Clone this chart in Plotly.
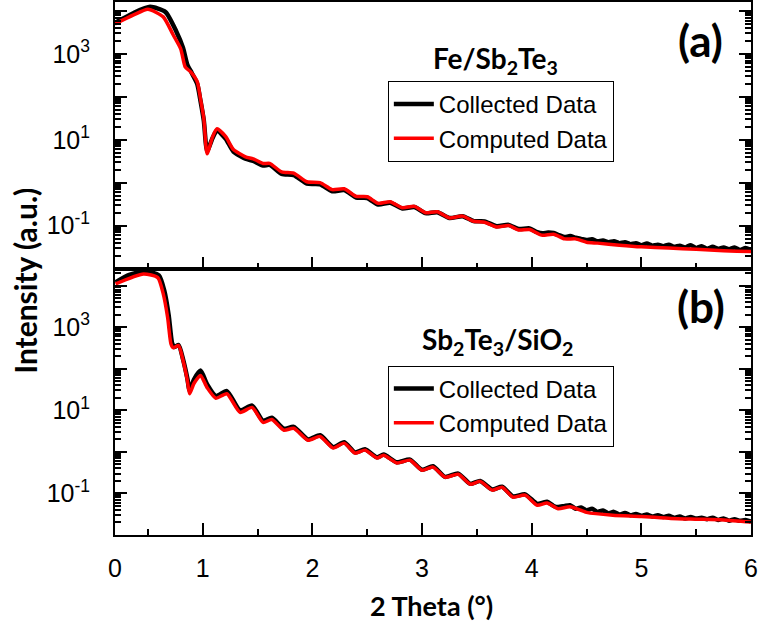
import plotly.graph_objects as go

# ---------------- data ----------------
# Panel (a): Fe/Sb2Te3
a_calc_x = [0.20, 0.37, 0.50, 0.64, 0.73, 0.80, 0.84, 0.89, 0.95, 0.98, 1.01, 1.04, 1.09, 1.13,
            1.21, 1.28, 1.39, 1.46, 1.55, 1.61, 1.72, 1.83, 1.95, 2.07, 2.18, 2.29, 2.40, 2.50,
            2.60, 2.71, 2.82, 2.93, 3.03, 3.14, 3.25, 3.37, 3.47, 3.57, 3.68, 3.79, 3.88, 3.98,
            4.09, 4.20, 4.30, 4.40, 4.50, 4.60, 4.80, 5.00, 5.25, 5.50, 5.75, 6.00]
a_calc_y = [5000, 8100, 11000, 7300, 2800, 1300, 500, 380, 225, 89, 31, 4.7, 11.7, 18,
            11.8, 5.9, 4.0, 3.6, 2.8, 2.82, 1.78, 1.66, 1.05, 1.0, 0.69, 0.72, 0.48, 0.47,
            0.33, 0.36, 0.26, 0.28, 0.20, 0.21, 0.151, 0.166, 0.126, 0.120, 0.093, 0.100, 0.079, 0.081,
            0.060, 0.063, 0.049, 0.049, 0.041, 0.039, 0.035, 0.032, 0.030, 0.028, 0.026, 0.025]

a_meas_x = [0.20, 0.37, 0.52, 0.66, 0.76, 0.82, 0.86, 0.90, 0.95, 0.98, 1.01, 1.04, 1.09, 1.13,
            1.21, 1.28, 1.39, 1.46, 1.55, 1.61, 1.72, 1.83, 1.95, 2.07, 2.18, 2.29, 2.40, 2.50,
            2.60, 2.71, 2.82, 2.93, 3.03, 3.14, 3.25, 3.37, 3.47, 3.57, 3.68, 3.79, 3.88, 3.98,
            4.05, 4.10, 4.15, 4.20, 4.25, 4.30, 4.35, 4.40, 4.45, 4.50, 4.55, 4.60, 4.65, 4.70,
            4.75, 4.80, 4.85, 4.90, 4.95, 5.00, 5.05, 5.10, 5.15, 5.20, 5.25, 5.30, 5.35, 5.40,
            5.45, 5.50, 5.55, 5.60, 5.65, 5.70, 5.75, 5.80, 5.85, 5.90, 5.95, 6.00]
a_meas_y = [5300, 9000, 12500, 9500, 3300, 1400, 560, 360, 200, 80, 28, 5.5, 11, 16.5,
            10.5, 5.3, 3.6, 3.2, 2.5, 2.6, 1.6, 1.5, 0.95, 0.92, 0.63, 0.67, 0.45, 0.44,
            0.31, 0.34, 0.25, 0.27, 0.195, 0.205, 0.15, 0.165, 0.127, 0.125, 0.097, 0.104, 0.083, 0.086,
            0.070, 0.066, 0.069, 0.067, 0.060, 0.054, 0.057, 0.052, 0.049, 0.046, 0.048, 0.043, 0.045, 0.041,
            0.043, 0.039, 0.041, 0.037, 0.039, 0.035, 0.038, 0.034, 0.036, 0.033, 0.036, 0.032, 0.034, 0.031,
            0.035, 0.030, 0.033, 0.029, 0.032, 0.029, 0.031, 0.028, 0.031, 0.027, 0.030, 0.027]

# Panel (b): Sb2Te3/SiO2
b_calc_x = [0.205, 0.46, 0.59, 0.64, 0.68, 0.71, 0.73, 0.78, 0.82, 0.86, 0.88, 0.92, 0.98, 1.04,
            1.12, 1.22, 1.34, 1.45, 1.55, 1.63, 1.74, 1.83, 1.96, 2.07, 2.19, 2.29, 2.39, 2.48,
            2.59, 2.65, 2.77, 2.89, 3.00, 3.10, 3.21, 3.33, 3.44, 3.53, 3.64, 3.73, 3.83, 3.94,
            4.05, 4.14, 4.24, 4.35, 4.50, 4.74, 5.00, 5.27, 5.51, 5.75, 6.00]
b_calc_y = [11000, 19000, 15500, 6300, 1700, 400, 320, 360, 160, 52, 25, 44, 69, 35,
            19.5, 25, 8.9, 11.7, 5.1, 6.0, 3.3, 3.7, 1.9, 2.35, 1.23, 1.62, 0.93, 1.1,
            0.71, 0.83, 0.54, 0.63, 0.36, 0.43, 0.245, 0.29, 0.166, 0.195, 0.12, 0.141, 0.081, 0.091,
            0.052, 0.059, 0.043, 0.048, 0.035, 0.030, 0.028, 0.025, 0.024, 0.023, 0.0205]

b_meas_x = [0.205, 0.33, 0.47, 0.60, 0.65, 0.69, 0.72, 0.74, 0.78, 0.82, 0.86, 0.88, 0.92, 0.98,
            1.04, 1.12, 1.22, 1.34, 1.45, 1.55, 1.63, 1.74, 1.83, 1.96, 2.07, 2.19, 2.29, 2.39,
            2.48, 2.59, 2.65, 2.77, 2.89, 3.00, 3.10, 3.21, 3.33, 3.44, 3.53, 3.64, 3.73, 3.83,
            3.94, 4.05, 4.10, 4.14, 4.20, 4.24, 4.30, 4.35, 4.40, 4.45, 4.50, 4.55, 4.60, 4.65,
            4.70, 4.75, 4.80, 4.85, 4.90, 4.95, 5.00, 5.05, 5.10, 5.15, 5.20, 5.25, 5.30, 5.35,
            5.40, 5.45, 5.50, 5.55, 5.60, 5.65, 5.70, 5.75, 5.80, 5.85, 5.90, 5.95, 6.00]
b_meas_y = [12000, 18000, 22000, 17500, 7500, 1900, 420, 330, 370, 170, 58, 30, 55, 90,
            42, 22, 29, 10, 13, 5.6, 6.6, 3.6, 4.0, 2.0, 2.5, 1.3, 1.7, 0.97,
            1.15, 0.74, 0.86, 0.56, 0.65, 0.37, 0.45, 0.25, 0.30, 0.17, 0.20, 0.125, 0.145, 0.085,
            0.095, 0.056, 0.060, 0.063, 0.050, 0.047, 0.050, 0.052, 0.043, 0.046, 0.039, 0.043, 0.036, 0.039,
            0.033, 0.036, 0.031, 0.034, 0.030, 0.032, 0.029, 0.031, 0.028, 0.030, 0.027, 0.029, 0.026, 0.028,
            0.025, 0.027, 0.025, 0.026, 0.024, 0.026, 0.023, 0.025, 0.022, 0.024, 0.022, 0.023, 0.021]

x_tick_vals = [0.2, 1, 2, 3, 4, 5, 6]
x_tick_text = ["0", "1", "2", "3", "4", "5", "6"]
x_minor_vals = [0.5, 1.5, 2.5, 3.5, 4.5, 5.5]
y_tick_vals = [0.01, 0.1, 1, 10, 100, 1000, 10000]
y_tick_text = ["", "10<sup>-1</sup>", "", "10<sup>1</sup>", "", "10<sup>3</sup>", ""]
y_minor_vals = [m * d for d in [0.01, 0.1, 1, 10, 100, 1000, 10000] for m in range(2, 10)]

series_names = ["Collected Data", "Computed Data"]
BLACK = "#000000"
RED = "#ff0000"

# ---------------- figure ----------------
fig = go.Figure()
fig.add_trace(go.Scatter(x=a_meas_x, y=a_meas_y, mode="lines", name=series_names[0],
                         line=dict(color=BLACK, width=4.5, shape="spline", smoothing=0.6),
                         xaxis="x", yaxis="y", legend="legend"))
fig.add_trace(go.Scatter(x=a_calc_x, y=a_calc_y, mode="lines", name=series_names[1],
                         line=dict(color=RED, width=3.5, shape="spline", smoothing=0.6),
                         xaxis="x", yaxis="y", legend="legend"))
fig.add_trace(go.Scatter(x=b_meas_x, y=b_meas_y, mode="lines", name=series_names[0],
                         line=dict(color=BLACK, width=4.5, shape="spline", smoothing=0.6),
                         xaxis="x2", yaxis="y2", legend="legend2"))
fig.add_trace(go.Scatter(x=b_calc_x, y=b_calc_y, mode="lines", name=series_names[1],
                         line=dict(color=RED, width=3.5, shape="spline", smoothing=0.6),
                         xaxis="x2", yaxis="y2", legend="legend2"))

tick_font = dict(family="Liberation Sans, Arial, sans-serif", size=25, color="black")
bold_font = "Lato, 'Open Sans', sans-serif"

common_x = dict(range=[0.2, 6], tickmode="array", tickvals=x_tick_vals, ticktext=x_tick_text,
                ticks="inside", ticklen=12, tickwidth=2, tickcolor="black",
                showline=True, linewidth=2, linecolor="black", mirror=True,
                showgrid=False, zeroline=False, tickfont=tick_font,
                minor=dict(tickmode="array", tickvals=x_minor_vals, ticks="inside",
                           ticklen=6, tickwidth=2, tickcolor="black", showgrid=False))
common_y = dict(type="log", tickmode="array", tickvals=y_tick_vals, ticktext=y_tick_text,
                ticks="inside", ticklen=12, tickwidth=2, tickcolor="black",
                showline=True, linewidth=2, linecolor="black", mirror="allticks",
                showgrid=False, zeroline=False, tickfont=tick_font, ticklabelstandoff=18,
                minor=dict(tickmode="array", tickvals=y_minor_vals, ticks="inside",
                           ticklen=6, tickwidth=1.5, tickcolor="black", showgrid=False))

legend_common = dict(bgcolor="white", bordercolor="black", borderwidth=1,
                     font=dict(family="Liberation Sans, Arial, sans-serif", size=24, color="black"),
                     xanchor="left", yanchor="top", tracegroupgap=0, itemwidth=40)


def label(text, x, y, size, angle=0):
    return dict(text=text, x=x, y=y, xref="paper", yref="paper", showarrow=False,
                xanchor="center", yanchor="middle", textangle=angle,
                font=dict(family=bold_font, size=size, color="black"))


fig.update_layout(
    width=758, height=627,
    margin=dict(l=115, r=7, t=0, b=92),
    paper_bgcolor="white", plot_bgcolor="white",
    xaxis=dict(common_x, domain=[0, 1], anchor="y", showticklabels=False),
    yaxis=dict(common_y, domain=[0.5, 1], anchor="x", range=[-2, 4.21]),
    xaxis2=dict(common_x, domain=[0, 1], anchor="y2", matches="x", showticklabels=True,
                ticklabelstandoff=10),
    yaxis2=dict(common_y, domain=[0, 0.5], anchor="x2", range=[-2, 4.41]),
    legend=dict(legend_common, x=0.429, y=0.852),
    legend2=dict(legend_common, x=0.429, y=0.318),
    showlegend=True,
    annotations=[
        label("<b>(a)</b>", 0.921, 0.929, 44),
        label("<b>(b)</b>", 0.921, 0.430, 44),
        label("<b>Fe/Sb<sub>2</sub>Te<sub>3</sub></b>", 0.599, 0.892, 28),
        label("<b>Sb<sub>2</sub>Te<sub>3</sub>/SiO<sub>2</sub></b>", 0.602, 0.364, 28),
        label("<b>Intensity (a.u.)</b>", -0.1415, 0.477, 30, angle=-90),
        label("<b>2 Theta (°)</b>", 0.498, -0.133, 27),
    ],
)

fig.write_html("out.html")
